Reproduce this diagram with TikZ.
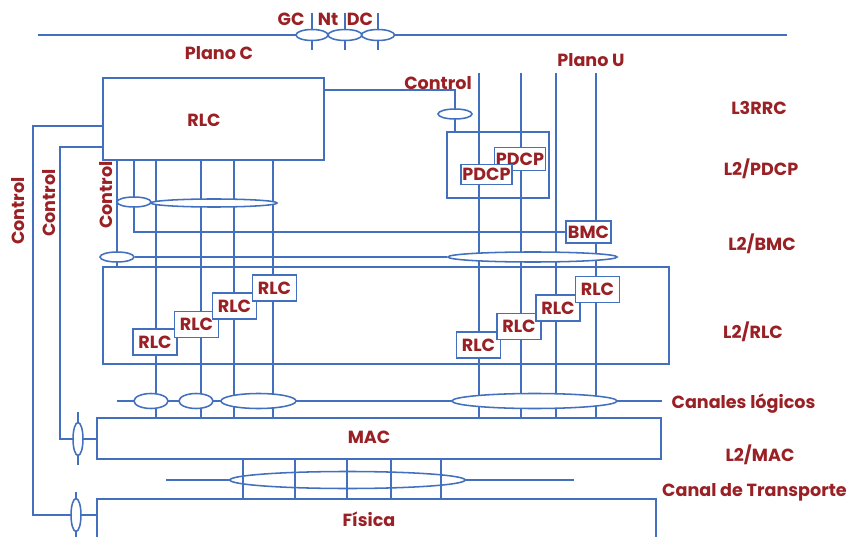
\documentclass[tikz,border=0pt]{standalone}
\usepackage{fontspec}
\setmainfont{Poppins}
\usetikzlibrary{shapes.geometric,positioning,backgrounds}
\definecolor{wireblue}{RGB}{66,112,190}
\definecolor{labelred}{RGB}{153,32,36}
\newcommand\lblfont{\fontsize{12.5}{14}\selectfont\bfseries}
\def\px{0.7113pt}

\begin{document}
\begin{tikzpicture}[x=0.025cm,y=-0.025cm,
  wire/.style={draw=wireblue,line width=1.1pt},
  frame/.style 2 args={wire,rectangle,inner sep=0pt,minimum width=#1*\px,minimum height=#2*\px},
  chan/.style 2 args={wire,ellipse,fill=white,inner sep=0pt,minimum width=#1*\px,minimum height=#2*\px},
  tag/.style={wire,fill=white,text=labelred,font=\lblfont,inner sep=1pt,minimum width=44*\px,minimum height=26*\px},
  lbl/.style={text=labelred,font=\lblfont,inner sep=0pt}
]
\useasboundingbox (0,0) rectangle (848,537);

% layers
\node[frame={221}{82}] (rrc) at (213.5,119) {};
\node[frame={102}{66}] (pdcp) at (498,165) {};
\node[frame={566}{97}] (rlcl) at (386,315.5) {};
\node[frame={564}{41}] (mac) at (379,438.5) {};
\node[frame={559}{80}] (phy) at (376.5,539) {};

% channel ellipses
\node[chan={32}{11}] (gc) at (312,35) {};
\node[chan={34}{11}] (nt) at (345,35) {};
\node[chan={33}{11}] (dc) at (378,35) {};
\node[chan={34}{10}] (pdk) at (455,114) {};
\node[chan={34}{10}] (ctlk) at (134,202) {};
\node[chan={126}{8}] (srb) at (214,203) {};
\node[chan={34}{10}] (bmck) at (117,257) {};
\node[chan={169}{10}] (bmcu) at (532.5,257) {};
\node[chan={34}{15}] (lch1) at (151,401) {};
\node[chan={34}{15}] (lch2) at (196,401) {};
\node[chan={75}{15}] (lch3) at (258.5,401) {};
\node[chan={165}{15}] (lch4) at (534.5,401) {};
\node[chan={235}{17}] (tch) at (347.5,480) {};
\node[chan={10}{33}] (mack) at (78,439) {};
\node[chan={10}{33}] (phyk) at (76,515) {};

% entities
\node[tag,minimum width=46*\px,minimum height=23*\px] (pdcpb) at (520,159) {PDCP};
\node[tag,minimum width=49*\px,minimum height=20*\px] (pdcpa) at (486.5,174.5) {PDCP};
\node[tag,minimum width=45*\px,minimum height=22*\px] (bmc) at (588.5,232) {BMC};
\foreach \n/\x/\y in {1/155/342,2/196.5/324.5,3/234.5/306,4/274.5/288}
  \node[tag] (rlcl\n) at (\x,\y) {RLC};
\foreach \n/\x/\y in {1/478.5/345,2/519/326.5,3/558/308,4/597.5/289.5}
  \node[tag] (rlcr\n) at (\x,\y) {RLC};

% free ends
\coordinate (cbl) at (38,35);
\coordinate (cbr) at (787,35);
\coordinate (lchl) at (117,401);
\coordinate (tchl) at (166,480);
\coordinate (tchr) at (574,480);
\coordinate (oc) at (33,515);
\coordinate (ic) at (60,439);

\begin{scope}[on background layer]
  \draw[wire] (cbl) -- (cbr);
  \foreach \k in {gc,nt,dc}
    \draw[wire] (\k.center |- 0,13) -- (\k.center |- 0,50);
  \draw[wire] (rrc.east |- 0,90) -| (pdk.center) -- (pdk.center |- pdcp.north);
  % plano U
  \foreach \x in {479,521,556,596}
    \draw[wire] (\x,73) -- (\x,0 |- mac.north);
  % plano C
  \foreach \x in {156,201,234,273}
    \draw[wire] (\x,0 |- rrc.south) -- (\x,0 |- mac.north);
  \draw[wire] (117,0 |- rrc.south) -- (117,0 |- rlcl.north);
  \draw[wire] (134,0 |- rrc.south) |- (bmc.west);
  \draw[wire] (bmck.east) -- (bmcu.west);
  \draw[wire] (lchl) -- (mac.east |- lchl);
  \draw[wire] (tchl) -- (tchr);
  % control
  \draw[wire] (rrc.west |- 0,126) -| (oc) -- (phy.west |- oc);
  \draw[wire] (rrc.west |- 0,147) -| (ic) -- (mac.west |- ic);
  \draw[wire] (mack.center |- 0,412) -- (mack.center |- 0,465);
  \draw[wire] (phyk.center |- 0,492) -- (phyk.center |- 0,545);
\end{scope}
\foreach \x in {243,295,347,391,441}
  \draw[wire] (\x,0 |- mac.south) -- (\x,0 |- phy.north);

% labels
\node[lbl] (gclbl) at (291,19) {GC};
\node[lbl] (ntlbl) at (328,19) {Nt};
\node[lbl] (dclbl) at (360,19) {DC};
\node[lbl] (planoc) at (219,53) {Plano C};
\node[lbl] (planou) at (591,60) {Plano U};
\node[lbl] (ctltop) at (438,83) {Control};
\node[lbl,rotate=90] (ctlo) at (18,211) {Control};
\node[lbl,rotate=90] (ctli) at (49,203) {Control};
\node[lbl,rotate=90] (ctlr) at (106,195) {Control};
\node[lbl] (rrclbl) at (204,120) {RLC};
\node[lbl] (maclbl) at (369,437) {MAC};
\node[lbl] (phylbl) at (369,519) {Física};
\node[lbl] (l3) at (759,108) {L3RRC};
\node[lbl] (l2p) at (761,169) {L2/PDCP};
\node[lbl] (l2b) at (762,244) {L2/BMC};
\node[lbl] (l2r) at (753,332) {L2/RLC};
\node[lbl] (l2m) at (760,455) {L2/MAC};
\node[lbl] (lgc) at (743.5,404) {Canales lógicos};
\node[lbl] (trc) at (754.5,492) {Canal de Transporte};
\end{tikzpicture}
\end{document}
